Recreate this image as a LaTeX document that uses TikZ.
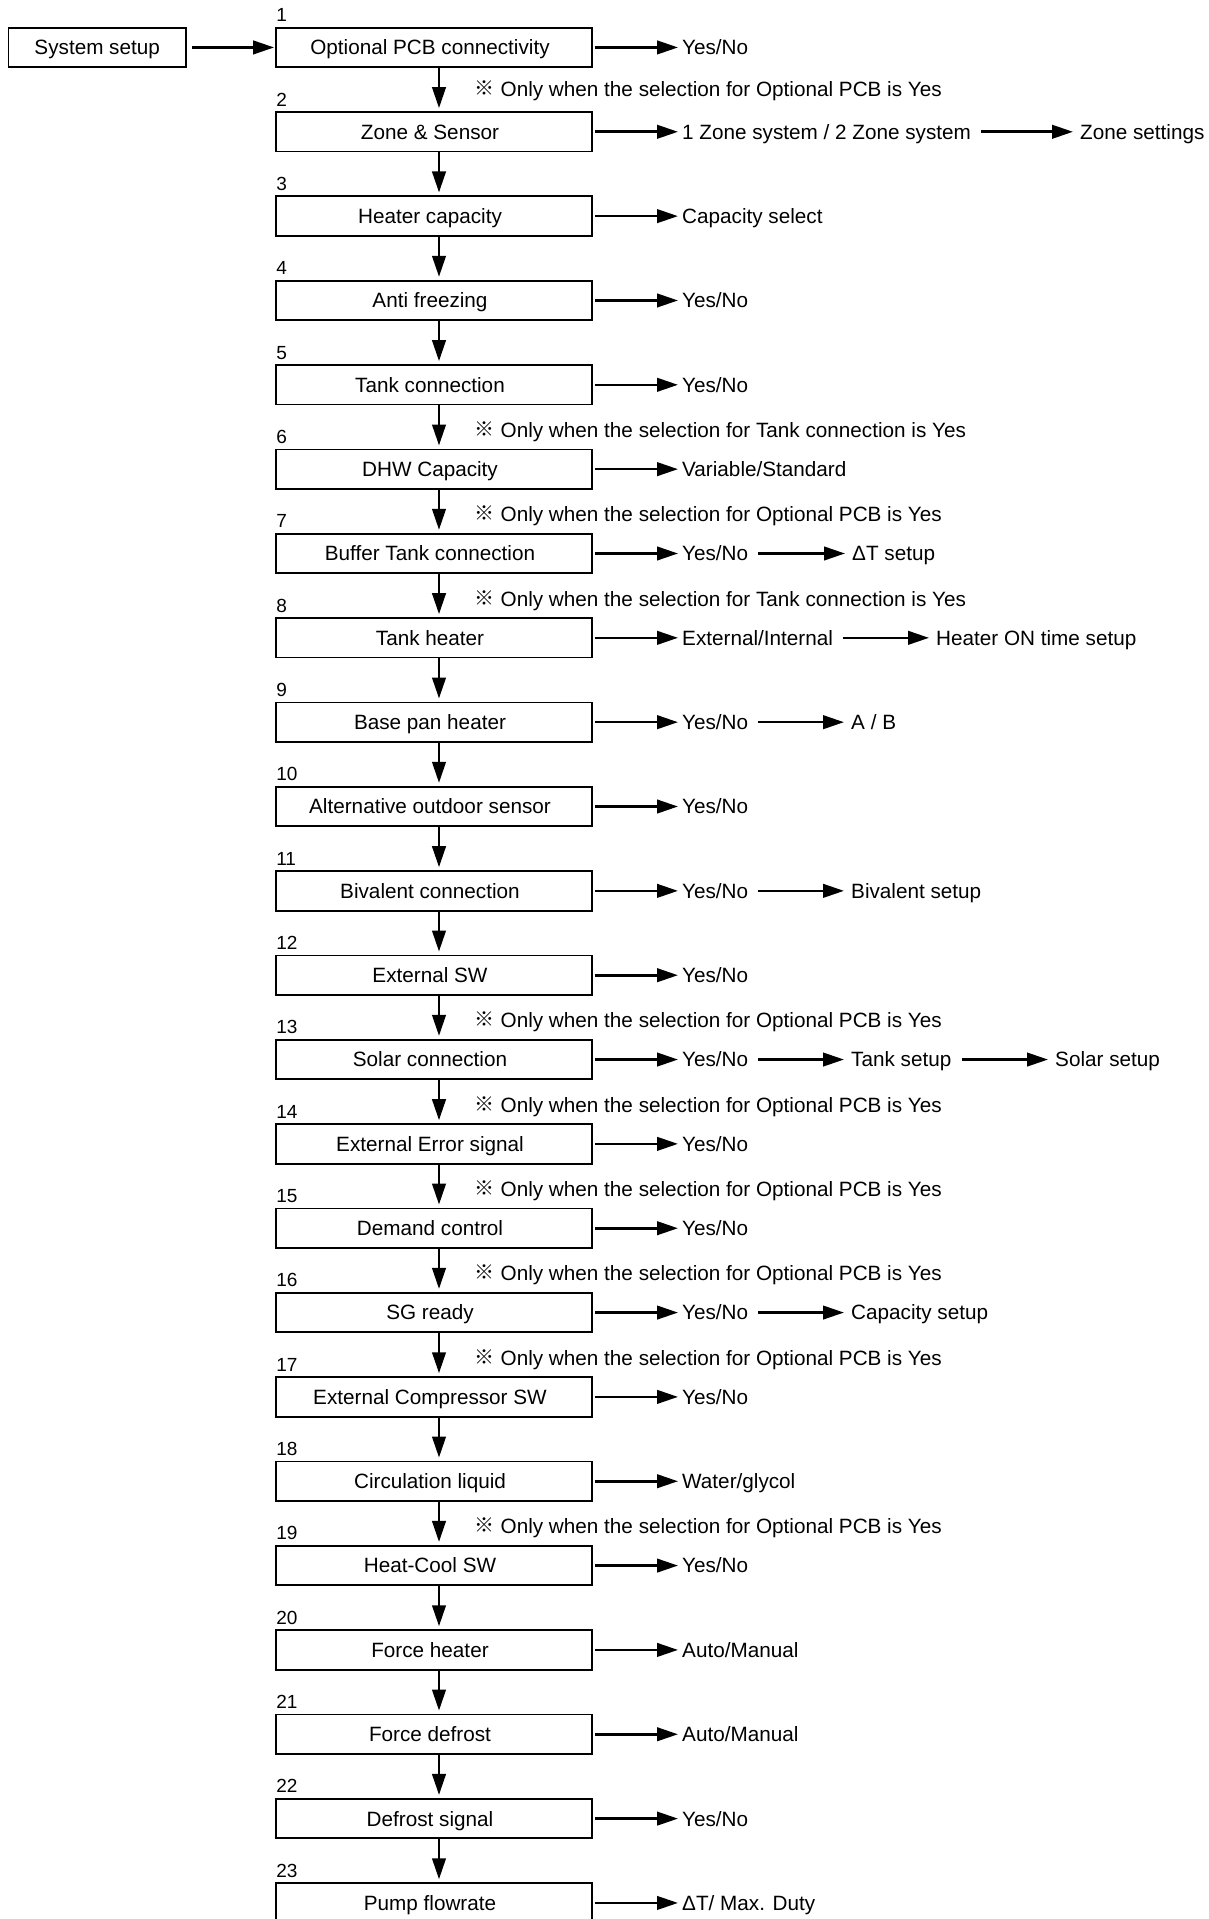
\documentclass[tikz,border=0pt]{standalone}
\usepackage{fontspec}
\setmainfont{Liberation Sans}
\newfontfamily\cjkfnt{Noto Sans CJK JP}
\usetikzlibrary{arrows.meta,calc}
\newcommand\mainsz{\fontsize{20.7pt}{24pt}\selectfont}
\newcommand\numsz{\fontsize{19pt}{22pt}\selectfont}
\begin{document}
\begin{tikzpicture}[x=1pt,y=-1pt,
  stepbox/.style={draw,line width=1.8pt,minimum width=316pt,minimum height=39.5pt,inner sep=0pt,text height=14.8pt,text depth=0pt,font=\mainsz},
  res/.style={anchor=west,inner sep=0pt,text height=14.8pt,text depth=0pt,font=\mainsz},
  numlab/.style={anchor=base west,inner sep=0pt,font=\numsz},
  notetxt/.style={anchor=west,inner sep=0pt,text height=14.8pt,text depth=0pt,font=\mainsz},
  refmark/.style={inner sep=0pt,font=\cjkfnt\bfseries\fontsize{20pt}{22pt}\selectfont},
  arr/.style={line width=2.6pt,-{Triangle[length=21pt,width=13.5pt]}},
  firstarr/.style={arr,shorten <=2pt,shorten >=4pt},
  nextarr/.style={arr,shorten <=10pt,shorten >=7pt},
  downarr/.style={arr,shorten >=3pt}
]
\clip (0,0) rectangle (1208,1919);
\fill[white] (0,0) rectangle (1208,1919);

% system setup
\node[stepbox,minimum width=177.5pt] (sys) at (97.2,47.45) {System setup};

% step boxes
\foreach \n/\t in {1/Optional PCB connectivity,2/Zone \& Sensor,3/Heater capacity,4/Anti freezing,5/Tank connection,6/DHW Capacity,7/Buffer Tank connection,8/Tank heater,9/Base pan heater,10/Alternative outdoor sensor,11/Bivalent connection,12/External SW,13/Solar connection,14/External Error signal,15/Demand control,16/SG ready,17/External Compressor SW,18/Circulation liquid,19/Heat-Cool SW,20/Force heater,21/Force defrost,22/Defrost signal,23/Pump flowrate}{
  \pgfmathsetmacro\yc{47.45+(\n-1)*84.34}
  \node[stepbox] (b\n) at (434,\yc) {\t\kern8pt};
  \node[numlab] (n\n) at ($(b\n.north west)+(1,-5)$) {\n};
}

\draw[arr,shorten <=5pt,shorten >=1pt] (sys.east) -- (b1.west);

% vertical arrows
\foreach \n [evaluate=\n as \m using int(\n+1)] in {1,...,22}{
  \draw[downarr] ([xshift=5pt]b\n.south) -- ([xshift=5pt]b\m.north);
}

% first results
\foreach \n/\t in {1/{Yes/No},2/{1 Zone system / 2 Zone system},3/{Capacity select},4/{Yes/No},5/{Yes/No},6/{Variable/Standard},7/{Yes/No},8/{External/Internal},9/{Yes/No},10/{Yes/No},11/{Yes/No},12/{Yes/No},13/{Yes/No},14/{Yes/No},15/{Yes/No},16/{Yes/No},17/{Yes/No},18/{Water/glycol},19/{Yes/No},20/{Auto/Manual},21/{Auto/Manual},22/{Yes/No},23/{ΔT/ Max. Duty}}{
  \pgfmathsetmacro\yc{47.45+(\n-1)*84.34}
  \node[res] (r\n) at (682,\yc) {\t};
  \draw[firstarr] (b\n.east) -- (r\n.west);
}

% second-level results
\node[res] (s2) at (1080,{47.45+1*84.34}) {Zone settings};
\draw[nextarr] (r2.east) -- (s2.west);
\node[res] (s7) at (852,{47.45+6*84.34}) {ΔT setup};
\draw[nextarr] (r7.east) -- (s7.west);
\node[res] (s8) at (936,{47.45+7*84.34}) {Heater ON time setup};
\draw[nextarr] (r8.east) -- (s8.west);
\node[res] (s9) at (851,{47.45+8*84.34}) {A / B};
\draw[nextarr] (r9.east) -- (s9.west);
\node[res] (s11) at (851,{47.45+10*84.34}) {Bivalent setup};
\draw[nextarr] (r11.east) -- (s11.west);
\node[res] (s13) at (851,{47.45+12*84.34}) {Tank setup};
\draw[nextarr] (r13.east) -- (s13.west);
\node[res] (t13) at (1055,{47.45+12*84.34}) {Solar setup};
\draw[nextarr] (s13.east) -- (t13.west);
\node[res] (s16) at (851,{47.45+15*84.34}) {Capacity setup};
\draw[nextarr] (r16.east) -- (s16.west);

% notes
\foreach \n/\y/\t in {1/89.2/Optional PCB,5/430/Tank connection,6/514.3/Optional PCB,7/598.7/Tank connection,12/1020.4/Optional PCB,13/1104.7/Optional PCB,14/1189.1/Optional PCB,15/1273.4/Optional PCB,16/1357.8/Optional PCB,18/1526.5/Optional PCB}{
  \node[refmark] (m\n) at (484,\y-1) {※};
  \node[notetxt] (q\n) at (500.5,\y) {Only when the selection for \t\ is Yes};
}
\end{tikzpicture}
\end{document}
